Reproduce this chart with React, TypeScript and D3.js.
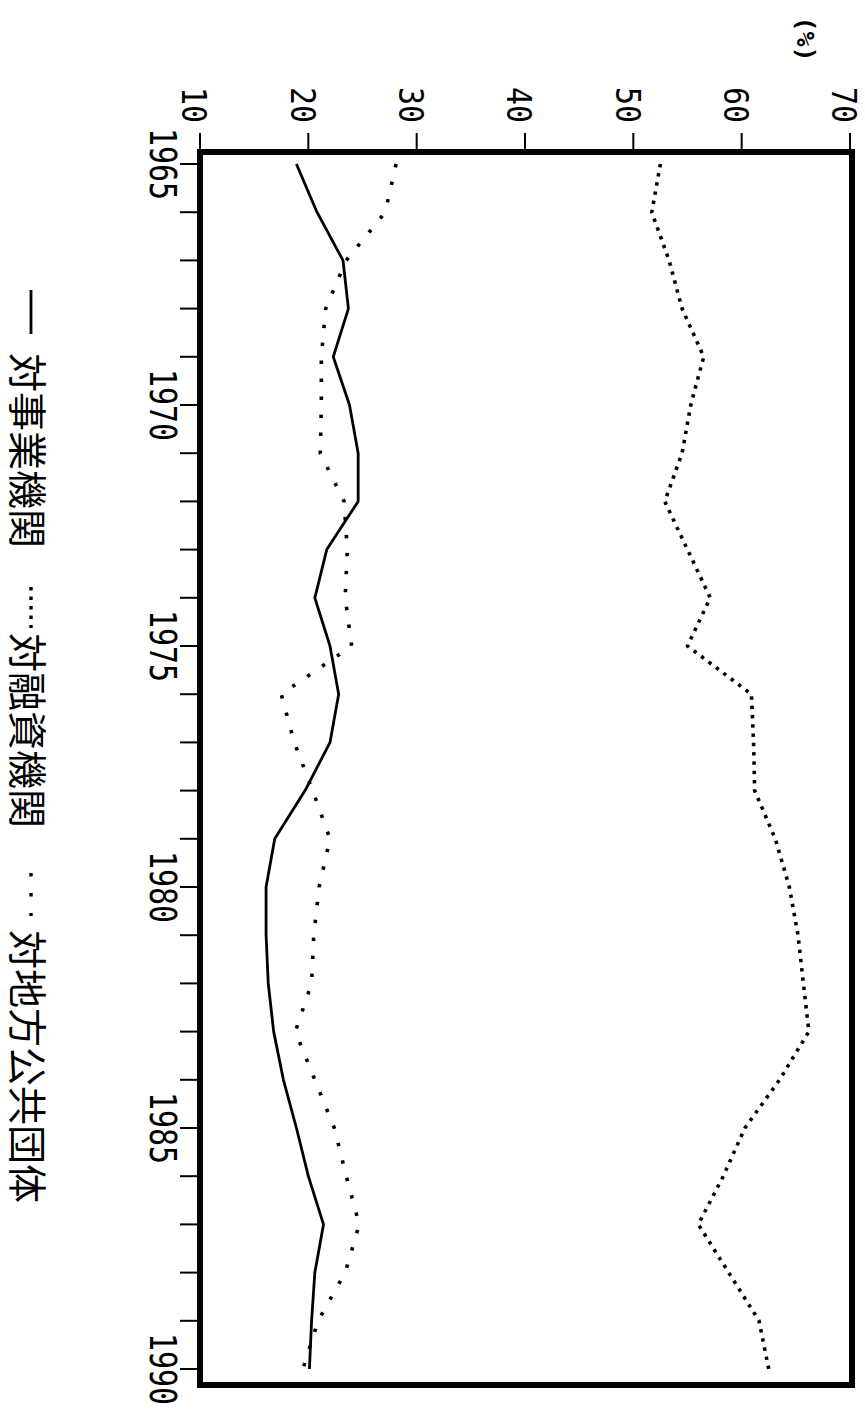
import React from 'react';
import * as d3 from 'd3';

// 年度 (横軸、原図では90度回転して縦に並ぶ)
const years = [
  1965, 1966, 1967, 1968, 1969, 1970, 1971, 1972, 1973, 1974,
  1975, 1976, 1977, 1978, 1979, 1980, 1981, 1982, 1983, 1984,
  1985, 1986, 1987, 1988, 1989, 1990,
];

// 対事業機関 (実線)
const jigyo = [
  18.9, 20.8, 23.2, 23.7, 22.3, 23.8, 24.6, 24.6, 21.7, 20.6,
  22.0, 22.8, 22.0, 19.7, 16.9, 16.1, 16.1, 16.3, 16.8, 17.7,
  18.9, 20.0, 21.4, 20.6, 20.3, 20.1,
];

// 対融資機関 (細かい点線)
const yushi = [
  52.5, 51.7, 53.3, 54.5, 56.5, 55.3, 54.5, 52.9, 55.0, 57.1,
  55.0, 60.9, 61.1, 61.2, 63.1, 64.4, 65.2, 65.7, 66.2, 63.5,
  60.3, 58.3, 56.0, 58.8, 61.6, 62.5,
];

// 対地方公共団体 (粗い点線)
const chiho = [
  28.1, 27.1, 23.5, 21.6, 21.2, 21.2, 21.1, 23.3, 23.6, 23.4,
  24.0, 17.5, 18.7, 20.4, 22.0, 21.0, 20.5, 20.3, 18.8, 20.6,
  22.4, 23.5, 24.7, 23.4, 20.9, 19.5,
];

const valueTicks = [10, 20, 30, 40, 50, 60, 70];
const yearLabels = [1965, 1970, 1975, 1980, 1985, 1990];

const W = 865;
const H = 1412;

const MONO = "'DejaVu Sans Mono', 'Liberation Mono', monospace";
const CJK = "'Noto Sans CJK JP', 'Noto Sans CJK SC', sans-serif";

const series = [
  { name: '対事業機関', values: jigyo, dash: 'none' },
  { name: '対融資機関', values: yushi, dash: '3.4 5.9' },
  { name: '対地方公共団体', values: chiho, dash: '3.4 14.6' },
];

// 凡例の配置 (回転後の縦方向の位置)
const legendLayout = [
  { sampleFrom: 290, sampleTo: 334, dash: 'none', textAt: 353 },
  { sampleFrom: 587, sampleTo: 628, dash: '3.4 6.1', textAt: 633 },
  { sampleFrom: 873, sampleTo: 916, dash: '3.4 16.6', textAt: 930 },
];

export default function App() {
  // 図全体を時計回りに90度回した座標系で描く
  // x: 年度 -> 紙面の縦方向 / y: % -> 紙面の横方向(右ほど大)
  const x = d3.scaleLinear().domain([1965, 1990]).range([164, 1369]);
  const y = d3.scaleLinear().domain([10, 70]).range([665, 15]);

  const frame = {
    left: x(1965) - 12,
    right: x(1990) + 16,
    top: y(70) - 2,
    bottom: y(10),
  };

  const line = d3.line<number>()
    .x((_, i) => x(years[i]))
    .y((d) => y(d));

  return (
    <svg
      width={W}
      height={H}
      style={{ position: 'absolute', left: 0, top: 0, background: '#fff' }}
    >
      <g transform={`translate(${W},0) rotate(90)`}>
        {/* (%) */}
        <text x={39} y={60} fontFamily={MONO} fontSize={25} fontWeight="bold" textAnchor="middle" dominantBaseline="central">
          (%)
        </text>

        {/* 縦軸 (%) の目盛 */}
        {valueTicks.map((t) => (
          <g key={t}>
            <line x1={frame.left - 19} x2={frame.left} y1={y(t)} y2={y(t)} stroke="#000" strokeWidth={2} />
            <g transform={`translate(${frame.left - 29},${y(t) + 5}) scale(1,1.15)`}>
              <text y={11} fontFamily={MONO} fontSize={30} textAnchor="end">{t}</text>
            </g>
          </g>
        ))}

        {/* 横軸 (年度) の目盛 */}
        {years.map((yr) => (
          <line key={yr} x1={x(yr)} x2={x(yr)} y1={frame.bottom} y2={frame.bottom + 20} stroke="#000" strokeWidth={2} />
        ))}
        {yearLabels.map((yr) => (
          <g key={yr} transform={`translate(${x(yr)},${frame.bottom + 36}) scale(1,1.25)`}>
            <text y={11} fontFamily={MONO} fontSize={30} textAnchor="middle">{yr}</text>
          </g>
        ))}

        {/* 系列 */}
        {series.map((s) => (
          <path
            key={s.name}
            d={line(s.values) ?? ''}
            fill="none"
            stroke="#000"
            strokeWidth={s.dash === 'none' ? 2.8 : 3.6}
            strokeDasharray={s.dash === 'none' ? undefined : s.dash}
            strokeLinejoin="round"
          />
        ))}

        {/* 枠 */}
        <rect
          x={frame.left}
          y={frame.top}
          width={frame.right - frame.left}
          height={frame.bottom - frame.top}
          fill="none"
          stroke="#000"
          strokeWidth={6}
        />

        {/* 凡例 */}
        {series.map((s, i) => {
          const L = legendLayout[i];
          return (
            <g key={s.name}>
              <line
                x1={L.sampleFrom}
                x2={L.sampleTo}
                y1={834}
                y2={834}
                stroke="#000"
                strokeWidth={L.dash === 'none' ? 2.8 : 3.4}
                strokeDasharray={L.dash === 'none' ? undefined : L.dash}
              />
              <text x={L.textAt} y={835} fontFamily={CJK} fontSize={39} dominantBaseline="central">
                {s.name}
              </text>
            </g>
          );
        })}
      </g>
    </svg>
  );
}
